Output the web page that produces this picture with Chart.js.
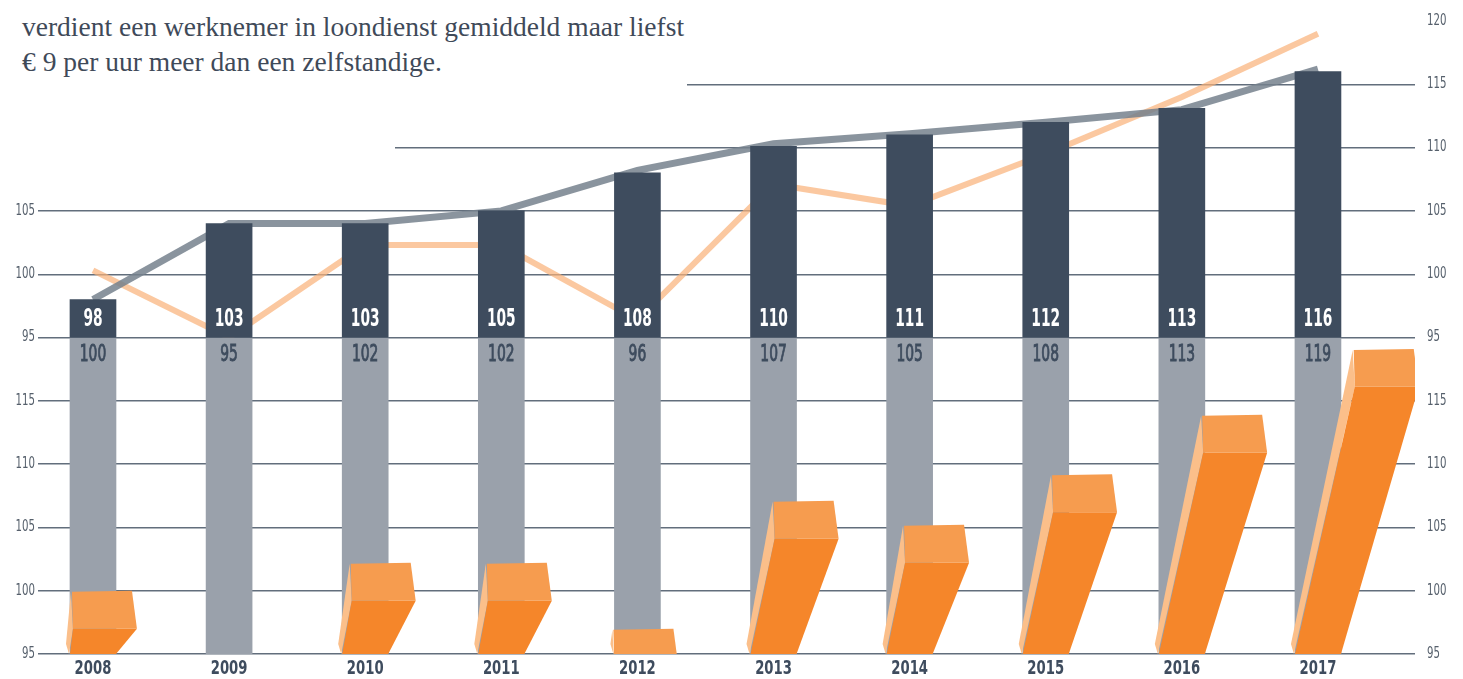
<!DOCTYPE html>
<html><head><meta charset="utf-8">
<script src="https://cdn.jsdelivr.net/npm/chart.js@4.4.1/dist/chart.umd.min.js"></script>
<style>
html,body{margin:0;padding:0;background:#fff;}
#wrap{position:relative;width:1463px;height:679px;overflow:hidden;}
canvas{position:absolute;left:0;top:0;}
#note{position:absolute;left:0;top:0;width:687px;height:100px;background:#fff;box-sizing:border-box;padding:9px 0 0 22px;font-family:"Liberation Serif","DejaVu Serif",serif;font-size:27.5px;line-height:35px;color:#3f4a59;white-space:nowrap;}
#cover{position:absolute;left:0;top:100px;width:395px;height:60px;background:#fff;}
</style></head>
<body><div id="wrap"><canvas id="c" width="1463" height="679"></canvas>
<div id="note">verdient een werknemer in loondienst gemiddeld maar liefst<br>€ 9 per uur meer dan een zelfstandige.</div>
<div id="cover"></div></div>
<script>
// ---- data ----
const categories = ['2008','2009','2010','2011','2012','2013','2014','2015','2016','2017'];
// upper panel (95-120)
const employeeBars   = [98, 104, 104, 105, 108, 110.1, 111, 112, 113.1, 116];
const employeeLabels = [98, 103, 103, 105, 108, 110, 111, 112, 113, 116];
const employeeLine   = [98, 104, 104, 105, 108.2, 110.3, 111.1, 112, 113, 116.2];
const selfLine       = [100.3, 95, 102.3, 102.3, 96.4, 107.1, 105.4, 109.5, 114, 119];
// lower panel (95-120)
const selfBoxTop     = [100, 95, 102.2, 102.2, 97, 107.1, 105.2, 109.2, 113.9, 119.1];
const selfLabels     = [100, 95, 102, 102, 96, 107, 105, 108, 113, 119];

// lower panel is drawn 25 units below the upper panel on one combined axis (70..120)
const SHIFT = 25;
const SANS = '"DejaVu Sans Condensed","DejaVu Sans",sans-serif';
const tickLabel = v => String(v >= 95 ? v : v + SHIFT);

function squeezeText(ctx, text, x, y, font, color, perChar, align, stroke) {
  ctx.save();
  ctx.font = font;
  const w = ctx.measureText(text).width;
  const s = Math.min(1, (perChar * text.length) / w);
  ctx.translate(x, y);
  ctx.scale(s, 1);
  ctx.fillStyle = color;
  ctx.textAlign = align;
  ctx.textBaseline = 'middle';
  ctx.fillText(text, 0, 0);
  if (stroke) {
    ctx.strokeStyle = color;
    ctx.lineWidth = stroke;
    ctx.strokeText(text, 0, 0);
  }
  ctx.restore();
}

const boxPlugin = {
  id: 'boxes',
  afterDatasetsDraw(chart) {
    const {ctx, chartArea, scales: {x, y}} = chart;
    ctx.save();
    ctx.beginPath();
    ctx.rect(chartArea.left, chartArea.top, chartArea.width, chartArea.bottom - chartArea.top);
    ctx.clip();
    const base = y.getPixelForValue(70);
    const depth = y.getPixelForValue(70) - y.getPixelForValue(73);
    const poly = (pts, col) => {
      ctx.beginPath();
      ctx.moveTo(pts[0][0], pts[0][1]);
      for (let k = 1; k < pts.length; k++) ctx.lineTo(pts[k][0], pts[k][1]);
      ctx.closePath();
      ctx.fillStyle = col;
      ctx.fill();
    };
    selfBoxTop.forEach((v, i) => {
      const cx = x.getPixelForValue(i);
      const yTop = y.getPixelForValue(v - SHIFT);
      const yF = yTop + depth;
      const h = base - yF;
      const shift = Math.max(0, 0.235 * h - 3);
      const xL0 = cx - 23, xR0 = cx + 23;
      const xTL = xL0 + shift, xTR = xTL + 64;
      if (yTop >= base) return;
      poly([[xL0 - 1, base], [xL0 - 4, base - 10], [xTL - 2, yTop + 1], [xTL, yF]], '#fbbf8a');
      if (h > 0) poly([[xL0, base], [xR0, base], [xTR, yF], [xTL, yF]], '#f5862a');
      poly([[xTL - 1, yTop + 1], [xTR - 5, yTop], [xTR, yF], [xTL, yF]], '#f69c4f');
    });
    ctx.restore();

    // value labels inside the bars
    const y95 = y.getPixelForValue(95);
    categories.forEach((c, i) => {
      const cx = x.getPixelForValue(i);
      squeezeText(ctx, String(employeeLabels[i]), cx, y95 - 18, 'bold 25px ' + SANS, '#ffffff', 9.6, 'center');
      squeezeText(ctx, String(selfLabels[i]), cx, y95 + 18, '23px ' + SANS, '#3e4c5e', 8.8, 'center', 0.9);
    });
  },
  afterDraw(chart) {
    // axis tick labels (taken from the axes' own ticks), drawn condensed
    const {ctx, scales: {x, y, y2}} = chart;
    x.ticks.forEach((t, i) => {
      squeezeText(ctx, String(t.label), x.getPixelForTick(i), x.top + 15, 'bold 20px ' + SANS, '#3e4c5e', 9.2, 'center');
    });
    y.ticks.forEach((t, i) => {
      squeezeText(ctx, String(t.label), y.right - 3, y.getPixelForTick(i), '15px ' + SANS, '#56606c', 6.5, 'right');
    });
    y2.ticks.forEach((t, i) => {
      squeezeText(ctx, String(t.label), y2.left + 12, y2.getPixelForTick(i), '15px ' + SANS, '#56606c', 6.5, 'left');
    });
  }
};

const hidden = 'rgba(0,0,0,0)';
new Chart(document.getElementById('c'), {
  type: 'bar',
  data: {
    datasets: [
      { type: 'bar', label: 'werknemer', data: categories.map((c, i) => ({x: i, y: [95, employeeBars[i]]})),
        backgroundColor: '#3e4c5e', barThickness: 46, grouped: false, order: 1 },
      { type: 'bar', label: 'zelfstandige', data: categories.map((c, i) => ({x: i, y: [70, 95]})),
        backgroundColor: '#9aa1ab', barThickness: 46, grouped: false, order: 1 },
      { type: 'line', label: 'werknemer lijn', data: categories.map((c, i) => ({x: i, y: employeeLine[i]})),
        borderColor: 'rgba(117,129,141,0.85)', borderWidth: 7, pointRadius: 0, tension: 0, borderCapStyle: 'butt', order: 2 },
      { type: 'line', label: 'zelfstandige lijn', data: categories.map((c, i) => ({x: i, y: selfLine[i]})),
        borderColor: 'rgba(249,176,119,0.7)', borderWidth: 6, pointRadius: 0, tension: 0, borderCapStyle: 'butt', order: 3 }
    ]
  },
  options: {
    responsive: false,
    animation: false,
    devicePixelRatio: 1,
    layout: { padding: { top: 20, left: 0, right: 0, bottom: 0 } },
    plugins: { legend: { display: false }, tooltip: { enabled: false } },
    scales: {
      x: {
        type: 'linear', min: -0.404, max: 9.713, offset: false,
        afterBuildTicks: s => { s.ticks = categories.map((c, i) => ({value: i})); },
        ticks: { callback: v => categories[v], font: { family: SANS, size: 20, weight: 'bold' }, color: hidden, padding: 4, autoSkip: false, maxRotation: 0 },
        grid: { display: false, drawTicks: false }, border: { display: false },
        afterFit: s => { s.height = 25; }
      },
      y: {
        position: 'left', min: 70, max: 120,
        ticks: { stepSize: 5, callback: tickLabel, font: { family: SANS, size: 15 }, color: hidden, padding: 3 },
        grid: { color: c => (c.tick && c.tick.value === 120 ? hidden : '#626e7c'), lineWidth: 1.4, drawTicks: false },
        border: { display: false },
        afterFit: s => { s.width = 38; }
      },
      y2: {
        position: 'right', min: 70, max: 120,
        ticks: { stepSize: 5, callback: tickLabel, font: { family: SANS, size: 15 }, color: hidden, padding: 12 },
        grid: { display: false, drawTicks: false }, border: { display: false },
        afterFit: s => { s.width = 48; }
      }
    }
  },
  plugins: [boxPlugin]
});
</script>
</body></html>
